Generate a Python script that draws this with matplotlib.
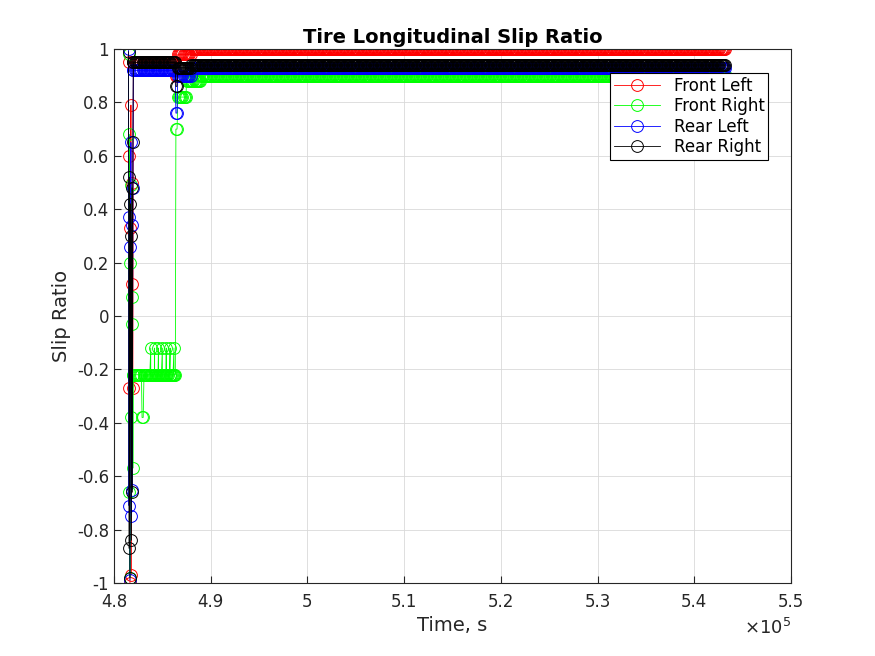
import numpy as np
import matplotlib
matplotlib.use("Agg")
import matplotlib.pyplot as plt

# early oscillation (time in 1e5 s, slip ratio)
osc_t = [4.8150, 4.8155, 4.8160, 4.8165, 4.8170, 4.8175, 4.8180, 4.8185, 4.8190, 4.8195, 4.8200]
fl_osc = [0.95, -0.27, 0.60, -1.00, 0.33, 0.79, -0.97, 0.50, 0.12, -0.27, 0.95]
fr_osc = [0.98, -0.66, 0.68, -0.98, 0.20, 0.49, -0.38, -0.03, 0.07, -0.57, -0.22]
rl_osc = [1.00, -0.71, 0.37, -0.99, 0.26, 0.65, -0.75, 0.34, -0.65, 0.48, 0.92]
rr_osc = [0.99, -0.87, 0.52, -0.98, 0.42, 0.30, -0.84, 0.48, -0.66, 0.65, 0.95]

# piecewise levels after the oscillation: (t_start, t_end, value)
fl_seg = [(4.820, 4.864, 0.95), (4.864, 4.866, 0.90), (4.866, 4.880, 0.98), (4.880, 5.433, 1.00)]
fr_seg = [(4.820, 4.829, -0.22), (4.829, 4.831, -0.38), (4.831, 4.864, -0.22), (4.864, 4.866, 0.70),
          (4.866, 4.875, 0.82), (4.875, 4.890, 0.88), (4.890, 5.433, 0.90)]
fr_spike_t = [4.838, 4.842, 4.846, 4.850, 4.854, 4.858, 4.862]
fr_spike_v = [-0.12] * len(fr_spike_t)
rl_seg = [(4.820, 4.864, 0.92), (4.864, 4.866, 0.76), (4.866, 4.880, 0.90), (4.880, 5.433, 0.93)]
rr_seg = [(4.820, 4.864, 0.95), (4.864, 4.866, 0.86), (4.866, 4.880, 0.93), (4.880, 5.433, 0.94)]

step = 0.0012


def build(osc_v, segs, extra_t=(), extra_v=()):
    t = list(osc_t)
    v = list(osc_v)
    for a, b, val in segs:
        ts = np.arange(a, b, step)
        t.extend(ts)
        v.extend([val] * len(ts))
    for et, ev in zip(extra_t, extra_v):
        i = int(np.searchsorted(t, et))
        t[i:i] = [et, et]
        v[i:i] = [ev, v[i - 1]]
    return np.array(t) * 1e5, np.array(v)


series = [
    ("Front Left", "#ff0000", build(fl_osc, fl_seg)),
    ("Front Right", "#00ff00", build(fr_osc, fr_seg, fr_spike_t, fr_spike_v)),
    ("Rear Left", "#0000ff", build(rl_osc, rl_seg)),
    ("Rear Right", "#000000", build(rr_osc, rr_seg)),
]

fig = plt.figure(figsize=(8.75, 6.56), dpi=100)
ax = fig.add_axes([114 / 875, 1 - 583 / 656, 677 / 875, 534 / 656])
for name, col, (t, v) in series:
    ax.plot(t, v, color=col, lw=0.6, marker="o", mfc="none", ms=8.5, mew=0.7, label=name)

ax.set_xlim(4.8e5, 5.5e5)
ax.set_ylim(-1, 1)
ax.set_xticks(np.arange(4.8e5, 5.51e5, 0.1e5))
ax.set_xticklabels(["4.8", "4.9", "5", "5.1", "5.2", "5.3", "5.4", "5.5"])
ax.set_yticks(np.arange(-1, 1.01, 0.2))
ax.set_yticklabels(["-1", "-0.8", "-0.6", "-0.4", "-0.2", "0", "0.2", "0.4", "0.6", "0.8", "1"])
ax.tick_params(labelsize=12, colors="#262626", direction="in", length=5)
ax.tick_params(axis="x", pad=7)
ax.grid(True, color="#d9d9d9", lw=0.6)
ax.set_axisbelow(True)
for s in ax.spines.values():
    s.set_color("#262626")
ax.text(1.0, -0.065, r"$\times10^5$", transform=ax.transAxes, ha="right", va="top", fontsize=13, color="#262626")
ax.set_xlabel("Time, s", fontsize=14, color="#262626", labelpad=4)
ax.set_ylabel("Slip Ratio", fontsize=14, color="#262626")
ax.set_title("Tire Longitudinal Slip Ratio", fontsize=14, fontweight="bold", pad=4)
leg = ax.legend(loc="upper right", fontsize=12, fancybox=False, framealpha=1,
                edgecolor="black", borderpad=0.2, labelspacing=0.15, handlelength=2.8,
                bbox_to_anchor=(0.978, 0.97))
leg.get_frame().set_linewidth(0.8)
fig.savefig("out.png", dpi=100)
